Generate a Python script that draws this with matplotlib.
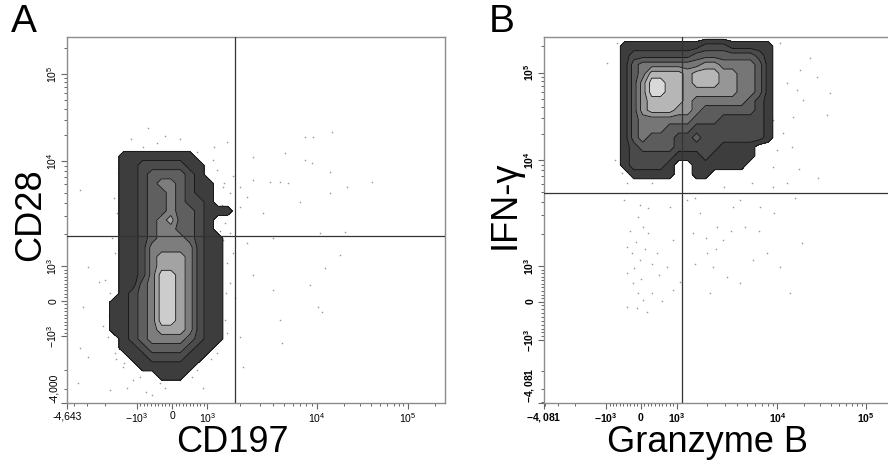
import numpy as np
import matplotlib
matplotlib.use("Agg")
import matplotlib.pyplot as plt

plt.rcParams['font.family'] = ['Liberation Sans', 'DejaVu Sans']
plt.rcParams['mathtext.fontset'] = 'custom'
plt.rcParams['mathtext.rm'] = 'Liberation Sans'
plt.rcParams['mathtext.bf'] = 'Liberation Sans:bold'
plt.rcParams['mathtext.it'] = 'Liberation Sans:italic'

# ---------------- axis scales (display channel units 0..1000) -------------
a_x_tick_values = [-4643, -1000, 0, 1000, 1e4, 1e5]
a_x_tick_pos = [0, 184, 279, 371, 661, 901]
a_x_tick_labels = ['-4,643', r'$\mathregular{-10^3}$', '0', r'$\mathregular{10^3}$',
                   r'$\mathregular{10^4}$', r'$\mathregular{10^5}$']
a_y_tick_values = [-4000, -1000, 0, 1000, 1e4, 1e5]
a_y_tick_pos = [0, 183, 279, 374, 661, 899]
a_y_tick_labels = ['-4,000', r'$\mathregular{-10^3}$', '0', r'$\mathregular{10^3}$',
                   r'$\mathregular{10^4}$', r'$\mathregular{10^5}$']

b_x_tick_values = [-4081, -1000, 0, 1000, 1e4, 1e5]
b_x_tick_pos = [0, 173, 269, 370, 650, 897]
b_x_tick_labels = [r'$\mathbf{-4,081}$', r'$\mathbf{-10^3}$', r'$\mathbf{0}$', r'$\mathbf{10^3}$',
                   r'$\mathbf{10^4}$', r'$\mathbf{10^5}$']
b_y_tick_values = [-4081, -1000, 0, 1000, 1e4, 1e5]
b_y_tick_pos = [0, 172, 277, 374, 664, 903]
b_y_tick_labels = [r'$\mathbf{-4,081}$', r'$\mathbf{-10^3}$', r'$\mathbf{0}$', r'$\mathbf{10^3}$',
                   r'$\mathbf{10^4}$', r'$\mathbf{10^5}$']

# gates (channel units)
a_gate_x, a_gate_y = 444, 456
b_gate_x, b_gate_y = 384, 574

# ---------------- density grids (contour levels) -------------------------
a_grid_x = np.arange(100, 476, 25)
a_grid_y = np.arange(25, 726, 25)
a_density_rows = [  # top (y=725) to bottom (y=25)
    "0000000000000000",
    "0000000000000000",
    "0011111111000000",
    "0011222221100000",
    "0011233332100000",
    "0011234432110000",
    "0011233432110000",
    "0011233432210000",
    "0011233433211100",
    "0011234533210000",
    "0011234433210000",
    "0011234443211000",
    "0011244444211000",
    "0011245554211000",
    "0011245554211000",
    "0011246654211000",
    "0011346654211000",
    "0012346654211000",
    "0112346654211000",
    "0112346654211000",
    "0112346654211000",
    "0112345554211000",
    "0012344443211000",
    "0011233332110000",
    "0001122221100000",
    "0000111111000000",
    "0000001110000000",
    "0000000000000000",
    "0000000000000000",
]

b_grid_x = np.arange(175, 676, 25)
b_grid_y = np.arange(575, 1001, 25)
b_density_rows = [  # top (y=1000) to bottom (y=575)
    "000000000000000000000",
    "001111111112221111100",
    "001222222233333332100",
    "001344444445544443100",
    "001346666566655443100",
    "001357766566655443100",
    "001357766555555443100",
    "001356666544444432100",
    "001356665543333332100",
    "001344444433322222100",
    "001344433322222222100",
    "001343332232222222100",
    "001233332222211110000",
    "001222221112111110000",
    "001222210011111100000",
    "000111110011000000000",
    "000000000000000000000",
    "000000000000000000000",
]

a_fill_colors = ['#3d3d3d', '#4b4b4b', '#5f5f5f', '#7d7d7d', '#a3a3a3', '#cccccc']
b_fill_colors = ['#3d3d3d', '#4a4a4a', '#5c5c5c', '#767676', '#969696', '#b6b6b6', '#d9d9d9']

# ---------------- scattered events (channel units) ------------------------
a_dots_x = [214, 423, 701, 630, 651, 577, 492, 630, 648, 696, 807, 563, 537, 492, 458, 585,
            741, 616, 696, 476, 458, 519, 735, 669, 545, 476, 722, 683, 492, 643, 545, 444,
            664, 675, 563, 569, 466, 458, 439, 431, 423,
            34, 56, 101, 34, 56, 29, 225, 114, 175, 108, 42,
            201, 238, 344, 386, 397, 413, 431, 418, 413, 423, 431, 418, 423, 397, 344, 299,
            246, 193, 148, 127, 119, 114, 127, 132, 135, 159,
            120, 125, 110, 130, 160, 210, 260, 330, 380, 400, 405, 410, 390, 300, 170, 260,
            440, 415, 95, 85, 150, 360, 395, 420, 405]
a_dots_y = [751, 713, 740, 727, 727, 683, 672, 664, 656, 631, 604, 604, 604, 609, 590, 601,
            590, 549, 574, 563, 536, 519, 467, 464, 451, 437, 404, 369, 350, 322, 309, 287,
            262, 249, 227, 164, 98, 180, 410, 464, 536,
            582, 372, 336, 150, 126, 55, 22, 36, 63, 180, 262,
            699, 710, 686, 664, 637, 590, 574, 492, 445, 383, 328, 227, 191, 137, 90, 63,
            55, 71, 98, 137, 208, 301, 410, 519, 628, 683,
            450, 560, 240, 120, 40, 30, 40, 70, 120, 260, 350, 540, 700, 720, 720, 730,
            620, 600, 210, 330, 110, 40, 160, 300, 470]

b_dots_x = [175, 223, 267, 290, 262, 276, 290, 231, 245, 267, 231, 248, 262, 276, 259, 287,
            231, 315, 343, 359, 359, 351, 398, 435, 482, 499, 454, 471, 510, 546, 582, 621,
            657, 685, 462, 415, 526, 546, 602, 638, 677, 719, 638, 649, 666, 694, 721, 760,
            797, 788, 741, 657, 713, 763, 203, 231, 198, 217, 638, 677, 705,
            240, 255, 280, 300, 320, 250, 270, 300, 330, 380, 420, 450, 480, 520, 560, 600,
            640, 700, 230, 300, 420, 500, 580, 690, 710]
b_dots_y = [929, 555, 541, 533, 508, 481, 464, 426, 410, 391, 355, 328, 301, 281, 260, 249,
            262, 410, 372, 309, 445, 536, 555, 519, 481, 445, 410, 372, 344, 328, 391, 410,
            372, 301, 301, 464, 536, 555, 536, 590, 601, 437, 645, 691, 738, 781, 828, 891,
            847, 787, 943, 984, 910, 615, 984, 986, 664, 628, 773, 874, 855,
            470, 440, 420, 380, 350, 370, 340, 300, 280, 330, 380, 450, 420, 470, 480, 470,
            520, 560, 600, 600, 560, 590, 600, 700, 640]


def grid_from_rows(rows):
    return np.array([[int(c) for c in r] for r in rows[::-1]], dtype=float)


def to_chan(v, vals, pos):
    if -1000 <= v <= 1000:
        return float(np.interp(v, vals[1:4], pos[1:4]))
    if v > 1000:
        lv = np.log10(v)
        if lv <= 5:
            return float(np.interp(lv, [3, 4, 5], pos[3:6]))
        return pos[5] + (lv - 5) * (pos[5] - pos[4])
    lv = np.log10(-v)
    return float(np.interp(lv, [3, np.log10(-vals[0])], [pos[1], pos[0]]))


def minor_positions(vals, pos):
    cands = [-4000, -3000, -2000] + [m for m in range(-900, 1000, 100) if m != 0] \
        + [m * 1000 for m in range(2, 10)] + [m * 10000 for m in range(2, 10)] + [200000]
    out = []
    for v in cands:
        if v <= vals[0]:
            continue
        c = to_chan(v, vals, pos)
        if 0 < c < 1000:
            out.append(c)
    return out


W, H = 888, 467
fig = plt.figure(figsize=(W / 100, H / 100), dpi=100)


def px_axes(x0, x1, y0, y1):
    return fig.add_axes([x0 / W, 1 - y1 / H, (x1 - x0) / W, (y1 - y0) / H])


ax_a = px_axes(67, 445, 37, 403)
ax_b = px_axes(544, 903, 37, 403)

spine_col = '#8c8c8c'
for ax, gx, gy, gxs, gys, rows, cols, dx, dy, xv, xp, xl, yv, yp, yl in [
    (ax_a, a_grid_x, a_grid_y, a_gate_x, a_gate_y, a_density_rows, a_fill_colors,
     a_dots_x, a_dots_y, a_x_tick_values, a_x_tick_pos, a_x_tick_labels,
     a_y_tick_values, a_y_tick_pos, a_y_tick_labels),
    (ax_b, b_grid_x, b_grid_y, b_gate_x, b_gate_y, b_density_rows, b_fill_colors,
     b_dots_x, b_dots_y, b_x_tick_values, b_x_tick_pos, b_x_tick_labels,
     b_y_tick_values, b_y_tick_pos, b_y_tick_labels),
]:
    Z = grid_from_rows(rows)
    levels = np.arange(0.5, len(cols) + 0.6, 1.0)
    ax.scatter(dx, dy, s=1.4, c='#9a9a9a', linewidths=0, zorder=1)
    ax.contourf(gx, gy, Z, levels=levels, colors=cols, zorder=2)
    ax.contour(gx, gy, Z, levels=levels, colors='#111111', linewidths=0.6, zorder=3)
    ax.axvline(gxs, color='#333333', lw=0.9, zorder=4)
    ax.axhline(gys, color='#333333', lw=0.9, zorder=4)
    ax.set_xlim(0, 1000)
    ax.set_ylim(0, 1000)
    for s in ax.spines.values():
        s.set_color(spine_col)
        s.set_linewidth(1.0)
    ax.set_xticks(xp)
    ax.set_xticklabels(xl)
    ax.set_yticks(yp)
    ax.set_yticklabels(yl, rotation=90, va='center')
    ax.get_yticklabels()[0].set_va('bottom')
    ax.set_xticks(minor_positions(xv, xp), minor=True)
    ax.set_yticks(minor_positions(yv, yp), minor=True)
    ax.tick_params(which='major', length=4, width=0.8, color='#666666', labelsize=7.5, pad=2)
    ax.tick_params(which='minor', length=2.5, width=0.7, color='#666666')

# axis titles and panel letters
def ftxt(x, y, s, **kw):
    fig.text(x / W, 1 - y / H, s, ha='center', va='center', **kw)

ftxt(232, 443, 'CD197', fontsize=26)
ftxt(707, 443, 'Granzyme B', fontsize=26)
ftxt(31, 215, 'CD28', fontsize=26, rotation=90)
ftxt(505, 205, 'IFN-γ', fontsize=26, rotation=90)
ftxt(24, 22, 'A', fontsize=28)
ftxt(502, 22, 'B', fontsize=28)

fig.savefig('out.png', dpi=100)
